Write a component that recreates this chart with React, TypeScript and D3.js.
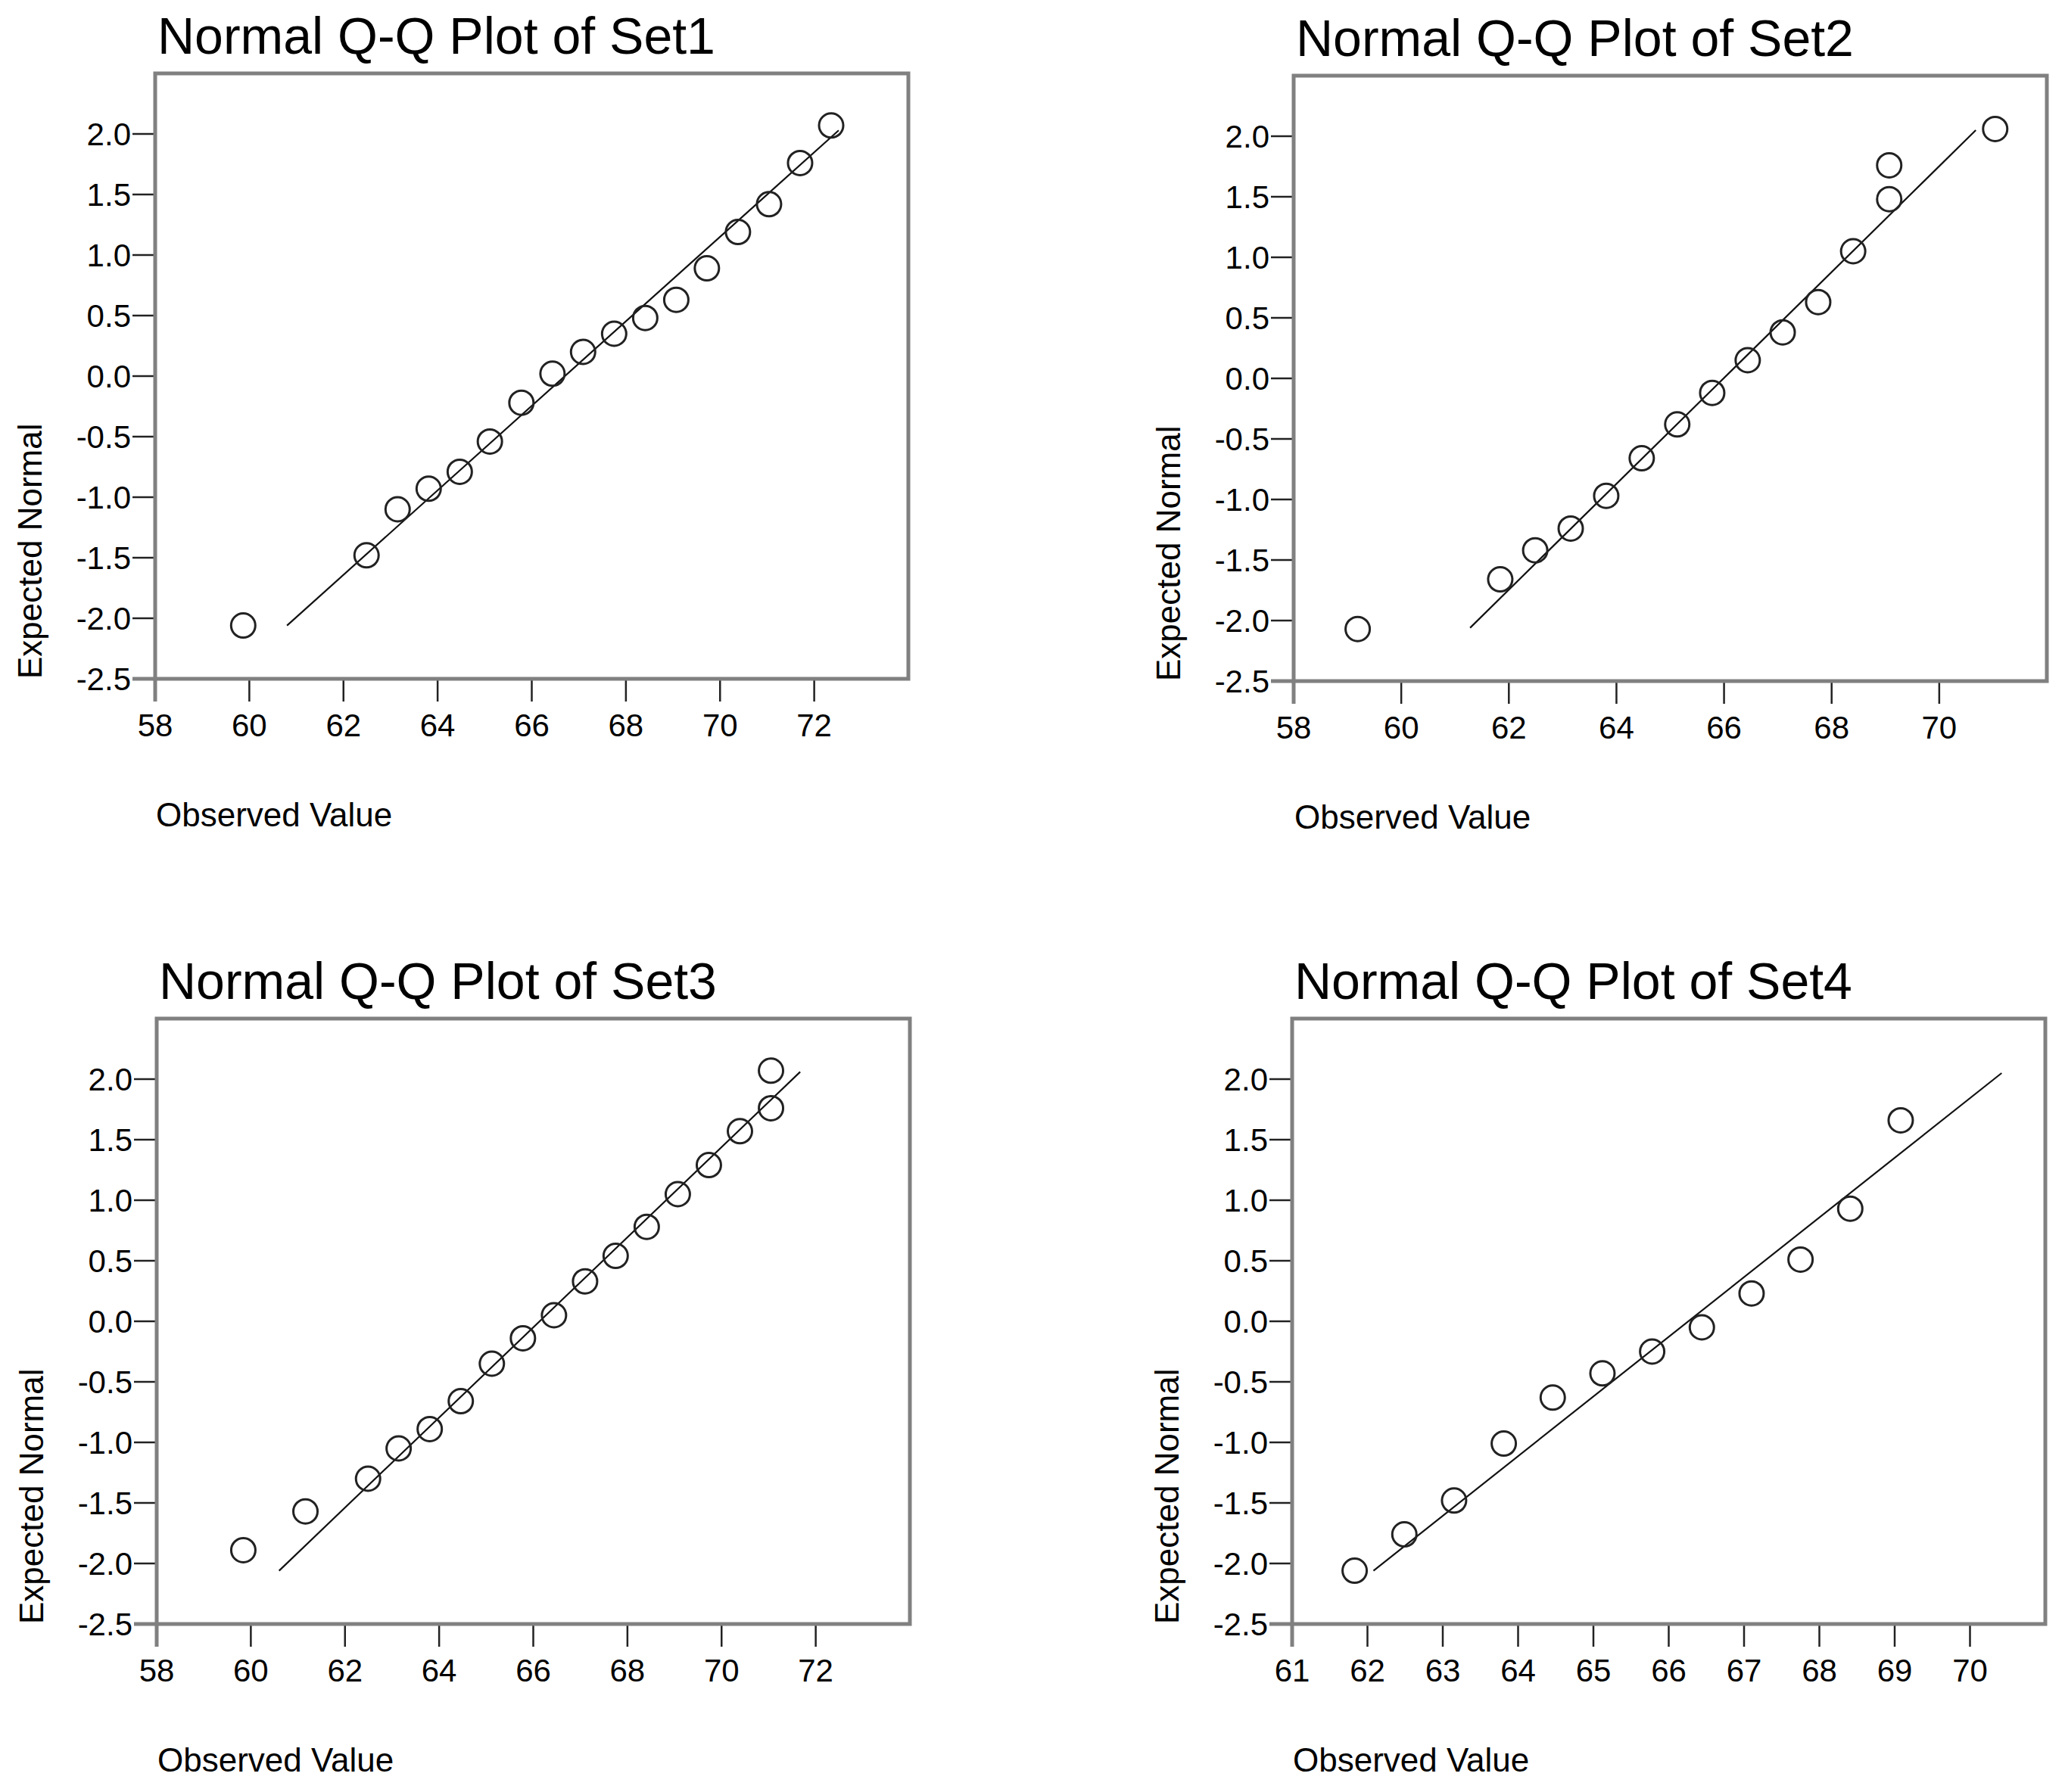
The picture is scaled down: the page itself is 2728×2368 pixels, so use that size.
import React, { useEffect } from 'react';
import * as d3 from 'd3';

const set1Observed = [59.87, 62.49, 63.15, 63.81, 64.47, 65.11, 65.78, 66.44, 67.09, 67.75, 68.41, 69.07, 69.72, 70.38, 71.04, 71.7, 72.36];
const set1Expected = [-2.06, -1.48, -1.1, -0.93, -0.79, -0.54, -0.22, 0.02, 0.2, 0.35, 0.48, 0.63, 0.89, 1.19, 1.42, 1.76, 2.07];

const set2Observed = [59.19, 61.84, 62.49, 63.15, 63.81, 64.47, 65.13, 65.78, 66.44, 67.09, 67.75, 68.4, 69.07, 69.07, 71.04];
const set2Expected = [-2.07, -1.66, -1.42, -1.24, -0.97, -0.66, -0.38, -0.12, 0.15, 0.38, 0.63, 1.05, 1.48, 1.76, 2.06];

const set3Observed = [59.84, 61.16, 62.49, 63.14, 63.8, 64.46, 65.12, 65.78, 66.44, 67.1, 67.75, 68.41, 69.07, 69.73, 70.39, 71.05, 71.05];
const set3Expected = [-1.89, -1.57, -1.3, -1.05, -0.89, -0.66, -0.35, -0.14, 0.05, 0.33, 0.54, 0.78, 1.05, 1.29, 1.57, 1.76, 2.07];

const set4Observed = [61.83, 62.49, 63.15, 63.81, 64.46, 65.12, 65.78, 66.44, 67.1, 67.75, 68.41, 69.08];
const set4Expected = [-2.06, -1.76, -1.48, -1.01, -0.63, -0.43, -0.25, -0.05, 0.23, 0.51, 0.93, 1.66];

// reference line endpoints: [x0, y0, x1, y1]
const set1Line = [60.8, -2.06, 72.52, 2.03];
const set2Line = [61.28, -2.06, 70.68, 2.05];
const set3Line = [60.6, -2.06, 71.67, 2.06];
const set4Line = [62.08, -2.06, 70.42, 2.05];

const xDomain1 = [58, 74];
const xDomain2 = [58, 72];
const xDomain3 = [58, 74];
const xDomain4 = [61, 71];

const xTicks1 = [58, 60, 62, 64, 66, 68, 70, 72];
const xTicks2 = [58, 60, 62, 64, 66, 68, 70];
const xTicks3 = [58, 60, 62, 64, 66, 68, 70, 72];
const xTicks4 = [61, 62, 63, 64, 65, 66, 67, 68, 69, 70];

const yTicks = [-2.5, -2.0, -1.5, -1.0, -0.5, 0.0, 0.5, 1.0, 1.5, 2.0];
const yDomain = [-2.5, 2.5];

const titles = ['Normal Q-Q Plot of Set1', 'Normal Q-Q Plot of Set2', 'Normal Q-Q Plot of Set3', 'Normal Q-Q Plot of Set4'];

const FONT = '"Liberation Sans", Arial, sans-serif';
const BOX_W = 995;
const BOX_H = 800;

interface PanelProps {
  left: number;
  top: number;
  title: string;
  xs: number[];
  ys: number[];
  line: number[];
  xDomain: number[];
  xTicks: number[];
}

function QQPanel({ left, top, title, xs, ys, line, xDomain, xTicks }: PanelProps) {
  const x = d3.scaleLinear().domain(xDomain).range([left, left + BOX_W]);
  const y = d3.scaleLinear().domain(yDomain).range([top + BOX_H, top]);
  const bottom = top + BOX_H;
  const points = xs.map((v, i) => [v, ys[i]]);

  return (
    <g>
      <text x={left + 3} y={top - 26} fontFamily={FONT} fontSize={68} fill="#000">{title}</text>

      {/* ticks */}
      {yTicks.map(t => {
        const edge = t === yDomain[0];
        return (
          <g key={'y' + t}>
            <line x1={left - 30} x2={left} y1={y(t)} y2={y(t)}
              stroke={edge ? '#808080' : '#222'} strokeWidth={edge ? 5 : 2.5} />
            <text x={left - 32} y={y(t)} dy="0.36em" textAnchor="end" fontFamily={FONT} fontSize={42} fill="#000">
              {t.toFixed(1)}
            </text>
          </g>
        );
      })}
      {xTicks.map(t => {
        const edge = t === xDomain[0];
        return (
          <g key={'x' + t}>
            <line x1={x(t)} x2={x(t)} y1={bottom} y2={bottom + 30}
              stroke={edge ? '#808080' : '#222'} strokeWidth={edge ? 5 : 2.5} />
            <text x={x(t)} y={bottom + 76} textAnchor="middle" fontFamily={FONT} fontSize={42} fill="#000">{t}</text>
          </g>
        );
      })}

      <rect x={left} y={top} width={BOX_W} height={BOX_H} fill="none" stroke="#808080" strokeWidth={5} />

      <line x1={x(line[0])} y1={y(line[1])} x2={x(line[2])} y2={y(line[3])} stroke="#111" strokeWidth={2.2} />

      {points.map((p, i) => (
        <circle key={i} cx={x(p[0])} cy={y(p[1])} r={16} fill="none" stroke="#222" strokeWidth={3} />
      ))}

      <text x={left + 1} y={bottom + 195} fontFamily={FONT} fontSize={44} fill="#000">Observed Value</text>
      <text transform={`translate(${left - 150},${bottom}) rotate(-90)`} fontFamily={FONT} fontSize={44} fill="#000">
        Expected Normal
      </text>
    </g>
  );
}

export default function App() {
  useEffect(() => {
    document.body.style.margin = '0';
  }, []);

  return (
    <svg width={2728} height={2368} viewBox="0 0 2728 2368" style={{ display: 'block', background: '#fff' }}>
      <rect width={2728} height={2368} fill="#fff" />
      <QQPanel left={205} top={97} title={titles[0]} xs={set1Observed} ys={set1Expected} line={set1Line} xDomain={xDomain1} xTicks={xTicks1} />
      <QQPanel left={1709} top={100} title={titles[1]} xs={set2Observed} ys={set2Expected} line={set2Line} xDomain={xDomain2} xTicks={xTicks2} />
      <QQPanel left={207} top={1346} title={titles[2]} xs={set3Observed} ys={set3Expected} line={set3Line} xDomain={xDomain3} xTicks={xTicks3} />
      <QQPanel left={1707} top={1346} title={titles[3]} xs={set4Observed} ys={set4Expected} line={set4Line} xDomain={xDomain4} xTicks={xTicks4} />
    </svg>
  );
}
